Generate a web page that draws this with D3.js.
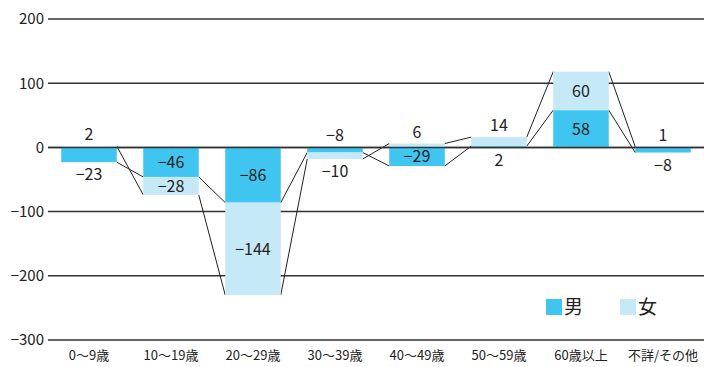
<!DOCTYPE html>
<html>
<head>
<meta charset="utf-8">
<script src="https://cdn.jsdelivr.net/npm/d3@7"></script>
<style>
  html, body { margin: 0; padding: 0; background: #fff; }
  svg { display: block; }
  text { font-family: "Noto Sans CJK JP", "Noto Sans", sans-serif; fill: #222; }
</style>
</head>
<body>
<svg id="chart" width="715" height="367"></svg>
<script>
// Age groups and the change in each, split by sex
const categories = ["0～9歳", "10～19歳", "20～29歳", "30～39歳", "40～49歳", "50～59歳", "60歳以上", "不詳/その他"];
const maleValues   = [-23, -46, -86, -8, -29, 2, 58, -8];
const femaleValues = [2, -28, -144, -10, 6, 14, 60, 1];
const yTicks = [-300, -200, -100, 0, 100, 200];
const seriesNames = ["男", "女"];
const seriesColors = ["#40c4f0", "#c6e9f8"];

const svg = d3.select("#chart");
const x = d3.scaleBand().domain(categories).range([48, 704]).paddingInner(0.323).paddingOuter(0.1615);
const y = d3.scaleLinear().domain([-300, 200]).range([340, 19]);
const fmt = d3.format("d");

// Gridlines with value labels on the left
const grid = svg.append("g");
grid.selectAll("line").data(yTicks).join("line")
  .attr("x1", 48).attr("x2", 704)
  .attr("y1", d => y(d)).attr("y2", d => y(d))
  .attr("stroke", "#333").attr("stroke-width", 1.5);
grid.selectAll("text").data(yTicks).join("text")
  .attr("x", 44).attr("y", d => y(d)).attr("dy", "0.36em")
  .attr("text-anchor", "end").attr("font-size", 15)
  .text(d => fmt(d));

// Stack: positives and negatives grow away from zero separately
const segs = categories.map((c, i) => {
  const m = maleValues[i], f = femaleValues[i];
  const m0 = 0, m1 = m;
  const f0 = (Math.sign(f) === Math.sign(m)) ? m : 0;
  const f1 = f0 + f;
  return { c, i, male: { v: m, y0: m0, y1: m1 }, female: { v: f, y0: f0, y1: f1 } };
});

// Series lines joining the stacked ends of neighbouring columns
const links = svg.append("g").attr("stroke", "#222").attr("stroke-width", 1).attr("fill", "none");
for (let i = 0; i < segs.length - 1; i++) {
  ["male", "female"].forEach(k => {
    links.append("line")
      .attr("x1", x(segs[i].c) + x.bandwidth()).attr("y1", y(segs[i][k].y1))
      .attr("x2", x(segs[i + 1].c)).attr("y2", y(segs[i + 1][k].y1));
  });
}

// Columns
const bars = svg.append("g");
["male", "female"].forEach((k, si) => {
  bars.selectAll("rect." + k).data(segs).join("rect")
    .attr("class", k)
    .attr("x", d => x(d.c))
    .attr("width", x.bandwidth())
    .attr("y", d => y(Math.max(d[k].y0, d[k].y1)))
    .attr("height", d => Math.abs(y(d[k].y0) - y(d[k].y1)))
    .attr("fill", seriesColors[si]);
});

// Zero baseline drawn over the columns
svg.append("line")
  .attr("x1", 48).attr("x2", 704).attr("y1", y(0)).attr("y2", y(0))
  .attr("stroke", "#333").attr("stroke-width", 1.5);

// Value labels: inside tall segments, otherwise just outside the column
const labels = svg.append("g").attr("font-size", 16).attr("text-anchor", "middle");
segs.forEach(d => {
  ["male", "female"].forEach(k => {
    const s = d[k];
    const other = d[k === "male" ? "female" : "male"];
    const px = Math.abs(y(s.y0) - y(s.y1));
    const cx = x(d.c) + x.bandwidth() / 2;
    let ly, dy;
    if (px >= 16) {
      ly = y((s.y0 + s.y1) / 2); dy = "0.36em";
    } else {
      const sameSide = Math.sign(other.v) === Math.sign(s.v);
      const outermost = !sameSide || Math.abs(s.y1) >= Math.abs(other.y1);
      const up = outermost ? s.v > 0 : s.v < 0;
      const edge = outermost ? y(s.y1) : y(0);
      if (up) { ly = edge - 6; dy = "0em"; } else { ly = edge + 6; dy = "0.76em"; }
    }
    labels.append("text").attr("x", cx).attr("y", ly).attr("dy", dy).text(fmt(s.v));
  });
});

// Category labels
svg.append("g").selectAll("text").data(categories).join("text")
  .attr("x", d => x(d) + x.bandwidth() / 2).attr("y", 360)
  .attr("text-anchor", "middle").attr("font-size", 13)
  .text(d => d);

// Legend
const legend = svg.append("g");
seriesNames.forEach((n, i) => {
  const lx = 546 + i * 74;
  legend.append("rect").attr("x", lx).attr("y", 299).attr("width", 16).attr("height", 16).attr("fill", seriesColors[i]);
  legend.append("text").attr("x", lx + 18).attr("y", 307).attr("dy", "0.36em").attr("font-size", 19).text(n);
});
</script>
</body>
</html>
